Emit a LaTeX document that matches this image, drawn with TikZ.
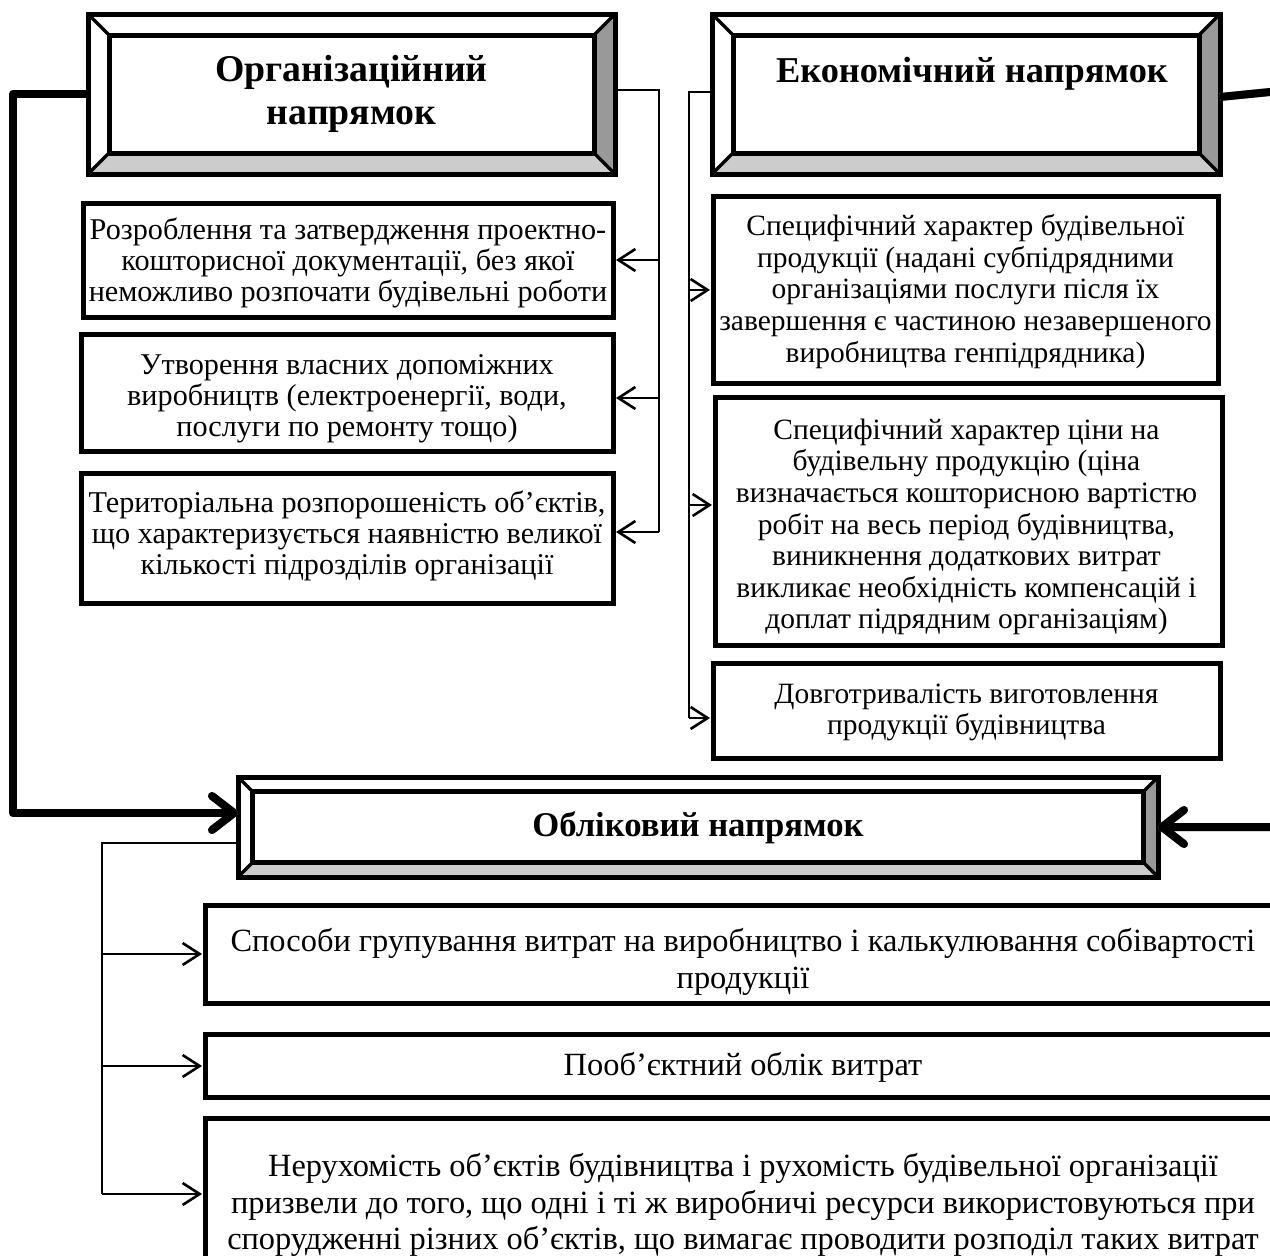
\documentclass[tikz,border=0pt]{standalone}
\usepackage{fontspec}
\setmainfont{Liberation Serif}
\usetikzlibrary{arrows.meta,calc}

\definecolor{bevlight}{HTML}{CCCCCC}
\definecolor{bevdark}{HTML}{999999}
\definecolor{shadowgray}{HTML}{A0A0A0}

\tikzset{
  box/.style={draw, line width=5pt, inner sep=0pt, outer sep=0pt},
  ltxt/.style={inner sep=0pt, align=center, font=\fontsize{30.2}{31}\selectfont},
  rtxt/.style={inner sep=0pt, align=center, font=\fontsize{29.5}{31.6}\selectfont},
  wtxt/.style={inner sep=0pt, align=center, font=\fontsize{32.4}{37}\selectfont},
  hdr/.style={inner sep=0pt, align=center, font=\fontsize{#1}{43}\selectfont\bfseries},
  bus/.style={line width=2pt},
  busarrow/.style={line width=2pt, -{Straight Barb[length=17pt,width=22pt,line width=2.6pt]}, shorten >=3pt},
  thickline/.style={line width=8pt, line join=round,
    -{Straight Barb[length=22pt,width=34pt,round,line width=8pt]}},
  thickshadow/.style={thickline, draw=shadowgray, shift={(3,4)}},
}

% frame with four bevels: name, centre, outer width, outer height, bevel width
\newcommand\bevelframe[5]{%
  \node[minimum width=#3, minimum height=#4, inner sep=0pt, outer sep=0pt] (#1) at #2 {};
  \node[minimum width=#3-2*#5, minimum height=#4-2*#5, inner sep=0pt, outer sep=0pt] (#1-in) at #2 {};
  \fill[white] (#1.north west) -- (#1.north east) -- (#1-in.north east) -- (#1-in.north west) -- cycle;
  \fill[white] (#1.north west) -- (#1.south west) -- (#1-in.south west) -- (#1-in.north west) -- cycle;
  \fill[bevlight] (#1.south west) -- (#1.south east) -- (#1-in.south east) -- (#1-in.south west) -- cycle;
  \fill[bevdark] (#1.north east) -- (#1.south east) -- (#1-in.south east) -- (#1-in.north east) -- cycle;
  \draw[line width=3.5pt] (#1.north west) -- (#1-in.north west) (#1.north east) -- (#1-in.north east)
    (#1.south west) -- (#1-in.south west) (#1.south east) -- (#1-in.south east);
  \draw[line width=5pt] (#1.north west) rectangle (#1.south east);
  \draw[line width=5pt] (#1-in.north west) rectangle (#1-in.south east);
}

\begin{document}
\begin{tikzpicture}[x=1pt, y=-1pt]
  \fill[white] (0,0) rectangle (1270,1256);
  \clip (0,0) rectangle (1270,1256);

  % heading frames
  \bevelframe{org}{(351.5,94)}{527}{160}{21}
  \bevelframe{eco}{(966,94)}{508}{160}{21}
  \bevelframe{obl}{(698,827)}{920}{100}{14.5}
  \node[hdr=37.8] (org-t) at (org-in) {Організаційний\\напрямок};
  \node[hdr=36.4] (eco-t) at ($(eco-in)+(6,-20)$) {Економічний напрямок};
  \node[hdr=34.7] (obl-t) at ($(obl-in)+(0,1)$) {Обліковий напрямок};

  % organisational features
  \node[box, minimum width=530, minimum height=114] (a1) at (348,260) {};
  \node[box, minimum width=532, minimum height=117] (a2) at (347,392.5) {};
  \node[box, minimum width=532, minimum height=130] (a3) at (347,538) {};
  \node[ltxt] (a1-t) at ($(a1)+(0,3)$)
    {Розроблення та затвердження проектно-\\кошторисної документації, без якої\\неможливо розпочати будівельні роботи};
  \node[ltxt] (a2-t) at ($(a2)+(0,6)$)
    {Утворення власних допоміжних\\виробництв (електроенергії, води,\\послуги по ремонту тощо)};
  \node[ltxt] (a3-t) at ($(a3)+(0,-2)$)
    {Територіальна розпорошеність об’єктів,\\що характеризується наявністю великої\\кількості підрозділів організації};

  % economic features
  \node[box, minimum width=505, minimum height=187] (b1) at (965.5,289.5) {};
  \node[box, minimum width=507, minimum height=248] (b2) at (968.5,521) {};
  \node[box, minimum width=507, minimum height=95] (b3) at (966.5,710.5) {};
  \node[rtxt] (b1-t) at ($(b1)+(0,2)$)
    {Специфічний характер будівельної\\продукції (надані субпідрядними\\організаціями послуги після їх\\завершення є частиною незавершеного\\виробництва генпідрядника)};
  \node[rtxt] (b2-t) at ($(b2)+(-2,6)$)
    {Специфічний характер ціни на\\будівельну продукцію (ціна\\визначається кошторисною вартістю\\робіт на весь період будівництва,\\виникнення додаткових витрат\\викликає необхідність компенсацій і\\доплат підрядним організаціям)};
  \node[rtxt] (b3-t) at ($(b3)+(0,2)$)
    {Довготривалість виготовлення\\продукції будівництва};

  % accounting features
  \node[box, minimum width=1076, minimum height=98] (c1) at (743,954) {};
  \node[box, minimum width=1076, minimum height=63] (c2) at (743,1065.5) {};
  \node[box, minimum width=1076, minimum height=172] (c3) at (743,1204) {};
  \node[wtxt] (c1-t) at ($(c1)+(0,8)$)
    {Способи групування витрат на виробництво і калькулювання собівартості\\продукції};
  \node[wtxt] (c2-t) at ($(c2)+(0,2)$)
    {Пооб’єктний облік витрат};
  \node[wtxt, font=\fontsize{32.4}{36.5}\selectfont] (c3-t) at ($(c3)+(0,1)$)
    {Нерухомість об’єктів будівництва і рухомість будівельної організації\\призвели до того, що одні і ті ж виробничі ресурси використовуються при\\спорудженні різних об’єктів, що вимагає проводити розподіл таких витрат};

  % left bus
  \coordinate (lt) at (659,90);
  \coordinate (l1) at (659,260);
  \coordinate (l2) at (659,398);
  \coordinate (l3) at (659,532);
  \draw[bus] (org.east |- lt) -- (lt) -- (l3);
  \draw[busarrow] (l1) -- (l1 -| a1.east);
  \draw[busarrow] (l2) -- (l2 -| a2.east);
  \draw[busarrow] (l3) -- (l3 -| a3.east);

  % right bus
  \coordinate (rt) at (689,92);
  \coordinate (r1) at (689,290);
  \coordinate (r2) at (689,505);
  \coordinate (r3) at (689,718);
  \draw[bus] (eco.west |- rt) -- (rt) -- (r3);
  \draw[busarrow] (r1) -- (r1 -| b1.west);
  \draw[busarrow] (r2) -- (r2 -| b2.west);
  \draw[busarrow] (r3) -- (r3 -| b3.west);

  % bottom bus
  \coordinate (bt) at (102,843);
  \coordinate (k1) at (102,954);
  \coordinate (k2) at (102,1066);
  \coordinate (k3) at (102,1194);
  \draw[bus] (obl.west |- bt) -- (bt) -- (k3);
  \draw[busarrow] (k1) -- (k1 -| c1.west);
  \draw[busarrow] (k2) -- (k2 -| c2.west);
  \draw[busarrow] (k3) -- (k3 -| c3.west);

  % heavy links into the accounting heading
  \coordinate (p1) at (13,94);
  \coordinate (p2) at (13,813);
  \coordinate (q0) at (1220,97);
  \coordinate (q1) at (1300,89);
  \coordinate (q2) at (1300,827);
  \draw[thickshadow] (org.west) -- (p1) -- (p2) -- (p2 -| obl.west);
  \draw[thickline] (org.west) -- (p1) -- (p2) -- (p2 -| obl.west);
  \draw[thickshadow] (q0) -- (q1) -- (q2) -- (obl.east);
  \draw[thickline] (q0) -- (q1) -- (q2) -- (obl.east);
\end{tikzpicture}
\end{document}
